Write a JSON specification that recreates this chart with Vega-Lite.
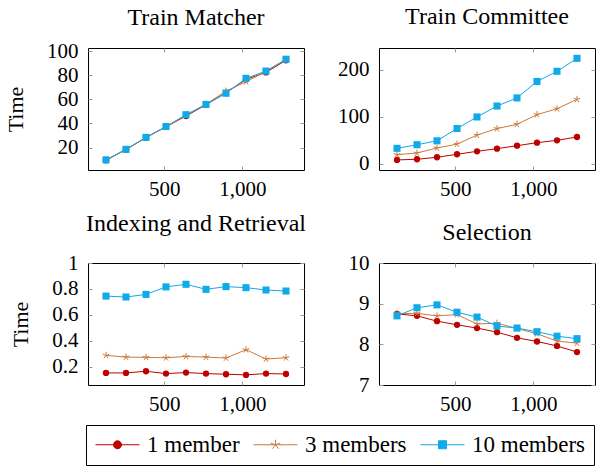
{
  "$schema": "https://vega.github.io/schema/vega-lite/v6.json",
  "padding": {"left": 4, "top": 4, "right": 0, "bottom": 0},
  "datasets": {
    "d": [
      {"p": "TM", "s": "1 member", "n": 128, "t": 9.5},
      {"p": "TM", "s": "1 member", "n": 256, "t": 18.5},
      {"p": "TM", "s": "1 member", "n": 384, "t": 28.3},
      {"p": "TM", "s": "1 member", "n": 512, "t": 37.3},
      {"p": "TM", "s": "1 member", "n": 640, "t": 46.2},
      {"p": "TM", "s": "1 member", "n": 768, "t": 55.5},
      {"p": "TM", "s": "1 member", "n": 896, "t": 65.5},
      {"p": "TM", "s": "1 member", "n": 1024, "t": 76.5},
      {"p": "TM", "s": "1 member", "n": 1152, "t": 82.3},
      {"p": "TM", "s": "1 member", "n": 1280, "t": 92.3},
      {"p": "TM", "s": "3 members", "n": 128, "t": 9.7},
      {"p": "TM", "s": "3 members", "n": 256, "t": 18.6},
      {"p": "TM", "s": "3 members", "n": 384, "t": 28.4},
      {"p": "TM", "s": "3 members", "n": 512, "t": 37.4},
      {"p": "TM", "s": "3 members", "n": 640, "t": 46.8},
      {"p": "TM", "s": "3 members", "n": 768, "t": 56.0},
      {"p": "TM", "s": "3 members", "n": 896, "t": 66.8},
      {"p": "TM", "s": "3 members", "n": 1024, "t": 74.5},
      {"p": "TM", "s": "3 members", "n": 1152, "t": 83.2},
      {"p": "TM", "s": "3 members", "n": 1280, "t": 93.0},
      {"p": "TM", "s": "10 members", "n": 128, "t": 9.9},
      {"p": "TM", "s": "10 members", "n": 256, "t": 18.6},
      {"p": "TM", "s": "10 members", "n": 384, "t": 28.5},
      {"p": "TM", "s": "10 members", "n": 512, "t": 37.5},
      {"p": "TM", "s": "10 members", "n": 640, "t": 47.3},
      {"p": "TM", "s": "10 members", "n": 768, "t": 55.8},
      {"p": "TM", "s": "10 members", "n": 896, "t": 65.0},
      {"p": "TM", "s": "10 members", "n": 1024, "t": 77.4},
      {"p": "TM", "s": "10 members", "n": 1152, "t": 83.4},
      {"p": "TM", "s": "10 members", "n": 1280, "t": 93.2},

      {"p": "TC", "s": "1 member", "n": 128, "t": 8.4},
      {"p": "TC", "s": "1 member", "n": 256, "t": 9.8},
      {"p": "TC", "s": "1 member", "n": 384, "t": 14},
      {"p": "TC", "s": "1 member", "n": 512, "t": 20.4},
      {"p": "TC", "s": "1 member", "n": 640, "t": 26.7},
      {"p": "TC", "s": "1 member", "n": 768, "t": 32.3},
      {"p": "TC", "s": "1 member", "n": 896, "t": 38.6},
      {"p": "TC", "s": "1 member", "n": 1024, "t": 45},
      {"p": "TC", "s": "1 member", "n": 1152, "t": 50},
      {"p": "TC", "s": "1 member", "n": 1280, "t": 57},
      {"p": "TC", "s": "3 members", "n": 128, "t": 19.6},
      {"p": "TC", "s": "3 members", "n": 256, "t": 23},
      {"p": "TC", "s": "3 members", "n": 384, "t": 33.7},
      {"p": "TC", "s": "3 members", "n": 512, "t": 42},
      {"p": "TC", "s": "3 members", "n": 640, "t": 61},
      {"p": "TC", "s": "3 members", "n": 768, "t": 75},
      {"p": "TC", "s": "3 members", "n": 896, "t": 84},
      {"p": "TC", "s": "3 members", "n": 1024, "t": 104.6},
      {"p": "TC", "s": "3 members", "n": 1152, "t": 117},
      {"p": "TC", "s": "3 members", "n": 1280, "t": 137},
      {"p": "TC", "s": "10 members", "n": 128, "t": 33},
      {"p": "TC", "s": "10 members", "n": 256, "t": 40.7},
      {"p": "TC", "s": "10 members", "n": 384, "t": 49},
      {"p": "TC", "s": "10 members", "n": 512, "t": 75},
      {"p": "TC", "s": "10 members", "n": 640, "t": 99.6},
      {"p": "TC", "s": "10 members", "n": 768, "t": 122.8},
      {"p": "TC", "s": "10 members", "n": 896, "t": 140},
      {"p": "TC", "s": "10 members", "n": 1024, "t": 175},
      {"p": "TC", "s": "10 members", "n": 1152, "t": 196.5},
      {"p": "TC", "s": "10 members", "n": 1280, "t": 224},

      {"p": "IR", "s": "1 member", "n": 128, "t": 0.153},
      {"p": "IR", "s": "1 member", "n": 256, "t": 0.153},
      {"p": "IR", "s": "1 member", "n": 384, "t": 0.166},
      {"p": "IR", "s": "1 member", "n": 512, "t": 0.148},
      {"p": "IR", "s": "1 member", "n": 640, "t": 0.156},
      {"p": "IR", "s": "1 member", "n": 768, "t": 0.148},
      {"p": "IR", "s": "1 member", "n": 896, "t": 0.143},
      {"p": "IR", "s": "1 member", "n": 1024, "t": 0.138},
      {"p": "IR", "s": "1 member", "n": 1152, "t": 0.148},
      {"p": "IR", "s": "1 member", "n": 1280, "t": 0.145},
      {"p": "IR", "s": "3 members", "n": 128, "t": 0.288},
      {"p": "IR", "s": "3 members", "n": 256, "t": 0.275},
      {"p": "IR", "s": "3 members", "n": 384, "t": 0.273},
      {"p": "IR", "s": "3 members", "n": 512, "t": 0.27},
      {"p": "IR", "s": "3 members", "n": 640, "t": 0.28},
      {"p": "IR", "s": "3 members", "n": 768, "t": 0.275},
      {"p": "IR", "s": "3 members", "n": 896, "t": 0.268},
      {"p": "IR", "s": "3 members", "n": 1024, "t": 0.332},
      {"p": "IR", "s": "3 members", "n": 1152, "t": 0.26},
      {"p": "IR", "s": "3 members", "n": 1280, "t": 0.27},
      {"p": "IR", "s": "10 members", "n": 128, "t": 0.745},
      {"p": "IR", "s": "10 members", "n": 256, "t": 0.738},
      {"p": "IR", "s": "10 members", "n": 384, "t": 0.758},
      {"p": "IR", "s": "10 members", "n": 512, "t": 0.816},
      {"p": "IR", "s": "10 members", "n": 640, "t": 0.836},
      {"p": "IR", "s": "10 members", "n": 768, "t": 0.797},
      {"p": "IR", "s": "10 members", "n": 896, "t": 0.818},
      {"p": "IR", "s": "10 members", "n": 1024, "t": 0.81},
      {"p": "IR", "s": "10 members", "n": 1152, "t": 0.792},
      {"p": "IR", "s": "10 members", "n": 1280, "t": 0.784},

      {"p": "SE", "s": "1 member", "n": 128, "t": 8.75},
      {"p": "SE", "s": "1 member", "n": 256, "t": 8.70},
      {"p": "SE", "s": "1 member", "n": 384, "t": 8.57},
      {"p": "SE", "s": "1 member", "n": 512, "t": 8.48},
      {"p": "SE", "s": "1 member", "n": 640, "t": 8.40},
      {"p": "SE", "s": "1 member", "n": 768, "t": 8.30},
      {"p": "SE", "s": "1 member", "n": 896, "t": 8.16},
      {"p": "SE", "s": "1 member", "n": 1024, "t": 8.07},
      {"p": "SE", "s": "1 member", "n": 1152, "t": 7.96},
      {"p": "SE", "s": "1 member", "n": 1280, "t": 7.81},
      {"p": "SE", "s": "3 members", "n": 128, "t": 8.76},
      {"p": "SE", "s": "3 members", "n": 256, "t": 8.76},
      {"p": "SE", "s": "3 members", "n": 384, "t": 8.70},
      {"p": "SE", "s": "3 members", "n": 512, "t": 8.73},
      {"p": "SE", "s": "3 members", "n": 640, "t": 8.50},
      {"p": "SE", "s": "3 members", "n": 768, "t": 8.52},
      {"p": "SE", "s": "3 members", "n": 896, "t": 8.39},
      {"p": "SE", "s": "3 members", "n": 1024, "t": 8.26},
      {"p": "SE", "s": "3 members", "n": 1152, "t": 8.08},
      {"p": "SE", "s": "3 members", "n": 1280, "t": 8.03},
      {"p": "SE", "s": "10 members", "n": 128, "t": 8.70},
      {"p": "SE", "s": "10 members", "n": 256, "t": 8.90},
      {"p": "SE", "s": "10 members", "n": 384, "t": 8.97},
      {"p": "SE", "s": "10 members", "n": 512, "t": 8.79},
      {"p": "SE", "s": "10 members", "n": 640, "t": 8.67},
      {"p": "SE", "s": "10 members", "n": 768, "t": 8.45},
      {"p": "SE", "s": "10 members", "n": 896, "t": 8.40},
      {"p": "SE", "s": "10 members", "n": 1024, "t": 8.31},
      {"p": "SE", "s": "10 members", "n": 1152, "t": 8.20},
      {"p": "SE", "s": "10 members", "n": 1280, "t": 8.14}
    ]
  },
  "data": {"name": "d"},
  "columns": 2,
  "bounds": "flush",
  "spacing": {"row": 93, "column": 75},
  "concat": [
    {
      "title": {"text": "Train Matcher", "offset": 10},
      "width": 216, "height": 122,
      "transform": [{"filter": "datum.p === 'TM'"}],
      "resolve": {"axis": {"x": "independent", "y": "independent"}},
      "layer": [
        {"transform": [{"filter": "datum.s === '1 member'"}],
         "mark": {"type": "line", "strokeWidth": 1, "color": "#BF0000", "point": {"shape": "circle", "filled": true, "size": 40, "color": "#BF0000"}},
         "encoding": {
           "x": {"field": "n", "type": "quantitative", "scale": {"domain": [12.8, 1395.2], "nice": false, "zero": false}, "axis": {"orient": "bottom", "values": [500, 1000], "title": null}},
           "y": {"field": "t", "type": "quantitative", "scale": {"domain": [1.5, 102.5], "nice": false, "zero": false}, "axis": {"orient": "left", "values": [20, 40, 60, 80, 100], "format": "~r", "title": "Time"}}
         }},
        {"transform": [{"filter": "datum.s === '3 members'"}],
         "mark": {"type": "line", "strokeWidth": 1, "color": "#CC7A3A", "point": {"shape": "M0,0L0,-1M0,0L-0.951,-0.309M0,0L-0.588,0.809M0,0L0.588,0.809M0,0L0.951,-0.309", "filled": false, "size": 49, "strokeWidth": 1, "color": "#CC7A3A"}},
         "encoding": {"x": {"field": "n", "type": "quantitative", "axis": null}, "y": {"field": "t", "type": "quantitative", "axis": null}}},
        {"transform": [{"filter": "datum.s === '10 members'"}],
         "mark": {"type": "line", "strokeWidth": 1, "color": "#10AAE8", "point": {"shape": "square", "filled": true, "size": 50, "color": "#10AAE8"}},
         "encoding": {"x": {"field": "n", "type": "quantitative", "axis": null}, "y": {"field": "t", "type": "quantitative", "axis": null}}},
        {"mark": {"type": "point", "filled": true, "fillOpacity": 0, "strokeOpacity": 0},
         "encoding": {
           "x": {"field": "n", "type": "quantitative", "axis": {"orient": "top", "labels": false, "values": [500, 1000], "title": null}},
           "y": {"field": "t", "type": "quantitative", "axis": {"orient": "right", "labels": false, "values": [20, 40, 60, 80, 100], "title": null}},
           "fill": {"field": "s", "type": "nominal", "scale": {"domain": ["1 member", "3 members", "10 members"], "range": ["#BF0000", "#CC7A3A", "#10AAE8"]}, "title": null},
           "stroke": {"field": "s", "type": "nominal", "scale": {"domain": ["1 member", "3 members", "10 members"], "range": ["#BF0000", "#CC7A3A", "#10AAE8"]}, "title": null},
           "shape": {"field": "s", "type": "nominal", "scale": {"domain": ["1 member", "3 members", "10 members"], "range": ["M-1,0L3.4,0M1.6,0A0.4,0.4,0,1,1,0.8,0A0.4,0.4,0,1,1,1.6,0Z", "M-1,0L3.4,0M1.2,0L1.2,-0.5M1.2,0L0.724,-0.155M1.2,0L0.906,0.405M1.2,0L1.494,0.405M1.2,0L1.676,-0.155", "M-1,0L3.4,0M0.8,-0.4L1.6,-0.4L1.6,0.4L0.8,0.4Z"]}, "title": null}
         }}
      ]
    },
    {
      "title": {"text": "Train Committee", "offset": 19},
      "width": 216, "height": 122,
      "transform": [{"filter": "datum.p === 'TC'"}],
      "resolve": {"axis": {"x": "independent", "y": "independent"}},
      "layer": [
        {"transform": [{"filter": "datum.s === '1 member'"}],
         "mark": {"type": "line", "strokeWidth": 1, "color": "#BF0000", "point": {"shape": "circle", "filled": true, "size": 40, "color": "#BF0000"}},
         "encoding": {
           "x": {"field": "n", "type": "quantitative", "scale": {"domain": [12.8, 1395.2], "nice": false, "zero": false}, "axis": {"orient": "bottom", "values": [500, 1000], "title": null}},
           "y": {"field": "t", "type": "quantitative", "scale": {"domain": [-13, 246], "nice": false, "zero": false}, "axis": {"orient": "left", "values": [0, 100, 200], "format": "~r", "title": null}}
         }},
        {"transform": [{"filter": "datum.s === '3 members'"}],
         "mark": {"type": "line", "strokeWidth": 1, "color": "#CC7A3A", "point": {"shape": "M0,0L0,-1M0,0L-0.951,-0.309M0,0L-0.588,0.809M0,0L0.588,0.809M0,0L0.951,-0.309", "filled": false, "size": 49, "strokeWidth": 1, "color": "#CC7A3A"}},
         "encoding": {"x": {"field": "n", "type": "quantitative", "axis": null}, "y": {"field": "t", "type": "quantitative", "axis": null}}},
        {"transform": [{"filter": "datum.s === '10 members'"}],
         "mark": {"type": "line", "strokeWidth": 1, "color": "#10AAE8", "point": {"shape": "square", "filled": true, "size": 50, "color": "#10AAE8"}},
         "encoding": {"x": {"field": "n", "type": "quantitative", "axis": null}, "y": {"field": "t", "type": "quantitative", "axis": null}}},
        {"mark": {"type": "point", "filled": true, "fillOpacity": 0, "strokeOpacity": 0},
         "encoding": {
           "x": {"field": "n", "type": "quantitative", "axis": {"orient": "top", "labels": false, "values": [500, 1000], "title": null}},
           "y": {"field": "t", "type": "quantitative", "axis": {"orient": "right", "labels": false, "values": [0, 100, 200], "title": null}},
           "fill": {"field": "s", "type": "nominal", "scale": {"domain": ["1 member", "3 members", "10 members"], "range": ["#BF0000", "#CC7A3A", "#10AAE8"]}, "title": null},
           "stroke": {"field": "s", "type": "nominal", "scale": {"domain": ["1 member", "3 members", "10 members"], "range": ["#BF0000", "#CC7A3A", "#10AAE8"]}, "title": null},
           "shape": {"field": "s", "type": "nominal", "scale": {"domain": ["1 member", "3 members", "10 members"], "range": ["M-1,0L3.4,0M1.6,0A0.4,0.4,0,1,1,0.8,0A0.4,0.4,0,1,1,1.6,0Z", "M-1,0L3.4,0M1.2,0L1.2,-0.5M1.2,0L0.724,-0.155M1.2,0L0.906,0.405M1.2,0L1.494,0.405M1.2,0L1.676,-0.155", "M-1,0L3.4,0M0.8,-0.4L1.6,-0.4L1.6,0.4L0.8,0.4Z"]}, "title": null}
         }}
      ]
    },
    {
      "title": {"text": "Indexing and Retrieval", "offset": 16},
      "width": 216, "height": 122,
      "transform": [{"filter": "datum.p === 'IR'"}],
      "resolve": {"axis": {"x": "independent", "y": "independent"}},
      "layer": [
        {"transform": [{"filter": "datum.s === '1 member'"}],
         "mark": {"type": "line", "strokeWidth": 1, "color": "#BF0000", "point": {"shape": "circle", "filled": true, "size": 40, "color": "#BF0000"}},
         "encoding": {
           "x": {"field": "n", "type": "quantitative", "scale": {"domain": [12.8, 1395.2], "nice": false, "zero": false}, "axis": {"orient": "bottom", "values": [500, 1000], "title": null}},
           "y": {"field": "t", "type": "quantitative", "scale": {"domain": [0.06, 1], "nice": false, "zero": false}, "axis": {"orient": "left", "values": [0.2, 0.4, 0.6, 0.8, 1], "format": "~r", "title": "Time"}}
         }},
        {"transform": [{"filter": "datum.s === '3 members'"}],
         "mark": {"type": "line", "strokeWidth": 1, "color": "#CC7A3A", "point": {"shape": "M0,0L0,-1M0,0L-0.951,-0.309M0,0L-0.588,0.809M0,0L0.588,0.809M0,0L0.951,-0.309", "filled": false, "size": 49, "strokeWidth": 1, "color": "#CC7A3A"}},
         "encoding": {"x": {"field": "n", "type": "quantitative", "axis": null}, "y": {"field": "t", "type": "quantitative", "axis": null}}},
        {"transform": [{"filter": "datum.s === '10 members'"}],
         "mark": {"type": "line", "strokeWidth": 1, "color": "#10AAE8", "point": {"shape": "square", "filled": true, "size": 50, "color": "#10AAE8"}},
         "encoding": {"x": {"field": "n", "type": "quantitative", "axis": null}, "y": {"field": "t", "type": "quantitative", "axis": null}}},
        {"mark": {"type": "point", "filled": true, "fillOpacity": 0, "strokeOpacity": 0},
         "encoding": {
           "x": {"field": "n", "type": "quantitative", "axis": {"orient": "top", "labels": false, "values": [500, 1000], "title": null}},
           "y": {"field": "t", "type": "quantitative", "axis": {"orient": "right", "labels": false, "values": [0.2, 0.4, 0.6, 0.8, 1], "title": null}},
           "fill": {"field": "s", "type": "nominal", "scale": {"domain": ["1 member", "3 members", "10 members"], "range": ["#BF0000", "#CC7A3A", "#10AAE8"]}, "title": null},
           "stroke": {"field": "s", "type": "nominal", "scale": {"domain": ["1 member", "3 members", "10 members"], "range": ["#BF0000", "#CC7A3A", "#10AAE8"]}, "title": null},
           "shape": {"field": "s", "type": "nominal", "scale": {"domain": ["1 member", "3 members", "10 members"], "range": ["M-1,0L3.4,0M1.6,0A0.4,0.4,0,1,1,0.8,0A0.4,0.4,0,1,1,1.6,0Z", "M-1,0L3.4,0M1.2,0L1.2,-0.5M1.2,0L0.724,-0.155M1.2,0L0.906,0.405M1.2,0L1.494,0.405M1.2,0L1.676,-0.155", "M-1,0L3.4,0M0.8,-0.4L1.6,-0.4L1.6,0.4L0.8,0.4Z"]}, "title": null}
         }}
      ]
    },
    {
      "title": {"text": "Selection", "offset": 7},
      "width": 216, "height": 122,
      "transform": [{"filter": "datum.p === 'SE'"}],
      "resolve": {"axis": {"x": "independent", "y": "independent"}},
      "layer": [
        {"transform": [{"filter": "datum.s === '1 member'"}],
         "mark": {"type": "line", "strokeWidth": 1, "color": "#BF0000", "point": {"shape": "circle", "filled": true, "size": 40, "color": "#BF0000"}},
         "encoding": {
           "x": {"field": "n", "type": "quantitative", "scale": {"domain": [12.8, 1395.2], "nice": false, "zero": false}, "axis": {"orient": "bottom", "values": [500, 1000], "title": null}},
           "y": {"field": "t", "type": "quantitative", "scale": {"domain": [7, 10], "nice": false, "zero": false}, "axis": {"orient": "left", "values": [7, 8, 9, 10], "format": "~r", "title": null}}
         }},
        {"transform": [{"filter": "datum.s === '3 members'"}],
         "mark": {"type": "line", "strokeWidth": 1, "color": "#CC7A3A", "point": {"shape": "M0,0L0,-1M0,0L-0.951,-0.309M0,0L-0.588,0.809M0,0L0.588,0.809M0,0L0.951,-0.309", "filled": false, "size": 49, "strokeWidth": 1, "color": "#CC7A3A"}},
         "encoding": {"x": {"field": "n", "type": "quantitative", "axis": null}, "y": {"field": "t", "type": "quantitative", "axis": null}}},
        {"transform": [{"filter": "datum.s === '10 members'"}],
         "mark": {"type": "line", "strokeWidth": 1, "color": "#10AAE8", "point": {"shape": "square", "filled": true, "size": 50, "color": "#10AAE8"}},
         "encoding": {"x": {"field": "n", "type": "quantitative", "axis": null}, "y": {"field": "t", "type": "quantitative", "axis": null}}},
        {"mark": {"type": "point", "filled": true, "fillOpacity": 0, "strokeOpacity": 0},
         "encoding": {
           "x": {"field": "n", "type": "quantitative", "axis": {"orient": "top", "labels": false, "values": [500, 1000], "title": null}},
           "y": {"field": "t", "type": "quantitative", "axis": {"orient": "right", "labels": false, "values": [7, 8, 9, 10], "title": null}},
           "fill": {"field": "s", "type": "nominal", "scale": {"domain": ["1 member", "3 members", "10 members"], "range": ["#BF0000", "#CC7A3A", "#10AAE8"]}, "title": null},
           "stroke": {"field": "s", "type": "nominal", "scale": {"domain": ["1 member", "3 members", "10 members"], "range": ["#BF0000", "#CC7A3A", "#10AAE8"]}, "title": null},
           "shape": {"field": "s", "type": "nominal", "scale": {"domain": ["1 member", "3 members", "10 members"], "range": ["M-1,0L3.4,0M1.6,0A0.4,0.4,0,1,1,0.8,0A0.4,0.4,0,1,1,1.6,0Z", "M-1,0L3.4,0M1.2,0L1.2,-0.5M1.2,0L0.724,-0.155M1.2,0L0.906,0.405M1.2,0L1.494,0.405M1.2,0L1.676,-0.155", "M-1,0L3.4,0M0.8,-0.4L1.6,-0.4L1.6,0.4L0.8,0.4Z"]}, "title": null}
         }}
      ]
    }
  ],
  "config": {
    "font": "Liberation Serif",
    "view": {"stroke": "black", "strokeWidth": 1},
    "title": {"font": "Liberation Serif", "fontSize": 24, "fontWeight": "normal", "color": "black"},
    "axis": {
      "domain": false, "grid": false,
      "ticks": true, "tickSize": -4, "tickColor": "#999999", "tickWidth": 1,
      "labelFont": "Liberation Serif", "labelFontSize": 21, "labelColor": "black",
      "titleFont": "Liberation Serif", "titleFontSize": 22, "titleFontWeight": "normal", "titleColor": "black", "titlePadding": 19
    },
    "axisX": {"labelPadding": 12},
    "axisY": {"labelPadding": 14},
    "legend": {
      "orient": "none", "legendX": -2, "legendY": 377, "direction": "horizontal",
      "strokeColor": "black", "fillColor": "white", "padding": 8, "cornerRadius": 0,
      "labelFont": "Liberation Serif", "labelFontSize": 23, "labelColor": "black",
      "symbolSize": 400, "symbolStrokeWidth": 1, "symbolOpacity": 1, "symbolFillOpacity": 1, "symbolStrokeOpacity": 1, "labelOffset": 30, "columnPadding": 11
    }
  }
}
